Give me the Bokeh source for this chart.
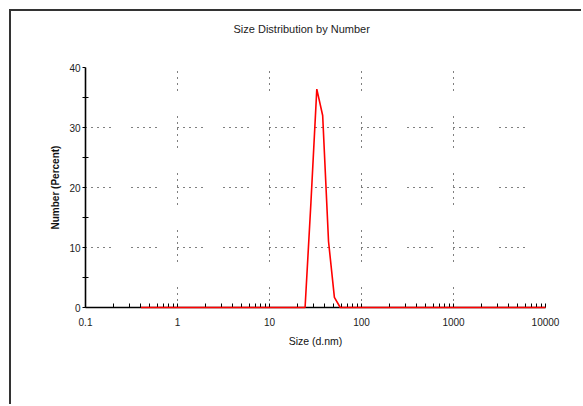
from bokeh.plotting import figure
from bokeh.models import FixedTicker, CustomJSTickFormatter, Title
from bokeh.embed import file_html
from bokeh.resources import INLINE

# Data (size in d.nm, number in percent)
sizes = [0.4, 24.36, 28.21, 32.67, 37.84, 43.82, 50.75, 58.77, 10000]
number_pct = [0.0, 0.0, 17.5, 36.4, 32.0, 11.0, 1.7, 0.0, 0.0]

x_major = [0.1, 1, 10, 100, 1000, 10000]
x_minor = [m * d for d in [0.1, 1, 10, 100, 1000] for m in range(2, 10)]
y_major = [0, 10, 20, 30, 40]
y_minor = [5, 15, 25, 35]

TITLE = "Size Distribution by Number"
FONT = "Liberation Sans"
PAD = 11  # outer panel frame offset (margin + border)

p = figure(width=583 - PAD, height=406 - PAD, x_axis_type="log",
           x_range=(0.1, 10000), y_range=(0, 40),
           output_backend="svg", toolbar_location=None,
           min_border_left=85 - PAD, min_border_right=38,
           min_border_top=67 - PAD, min_border_bottom=99)
p.margin = (9, 0, 0, 9)
p.styles = {"border-left": "2px solid #333333", "border-top": "2px solid #333333"}

p.background_fill_color = "white"
p.border_fill_color = "white"
p.outline_line_color = None

# title (outermost) and a blank spacer between it and the frame
p.title = Title(text=TITLE, text_font=FONT, text_font_size="11px",
                text_font_style="normal", text_color="#222222",
                align="left", offset=148, standoff=0)
p.add_layout(Title(text=" ", text_font=FONT, text_font_size="11px",
                   standoff=19), "above")

r = p.line(sizes, number_pct, line_color="#ff0000", line_width=1.6)
r.level = "overlay"

# axes
xa = p.xaxis[0]
xa.ticker = FixedTicker(ticks=x_major, minor_ticks=x_minor)
xa.formatter = CustomJSTickFormatter(code="return String(tick)")
xa.axis_label = "Size (d.nm)"
ya = p.yaxis[0]
ya.ticker = FixedTicker(ticks=y_major, minor_ticks=y_minor)
ya.axis_label = "Number (Percent)"

for ax in (xa, ya):
    ax.axis_line_color = "black"
    ax.axis_line_width = 1.6
    ax.major_tick_line_color = "black"
    ax.minor_tick_line_color = "black"
    ax.major_label_text_font = FONT
    ax.major_label_text_font_size = "10px"
    ax.major_label_text_color = "#222222"
    ax.axis_label_text_font = FONT
    ax.axis_label_text_color = "#111111"

xa.major_tick_in = 4
xa.major_tick_out = 0
xa.minor_tick_in = 4
xa.minor_tick_out = 0
xa.major_label_standoff = 10
xa.axis_label_standoff = 6
xa.axis_label_text_font_size = "10.5px"
xa.axis_label_text_font_style = "normal"

ya.major_tick_in = 0
ya.major_tick_out = 3
ya.minor_tick_in = 3
ya.minor_tick_out = 3
ya.major_label_standoff = 2
ya.axis_label_standoff = 5
ya.axis_label_text_font_size = "10px"
ya.axis_label_text_font_style = "bold"

# dotted grids
p.xgrid.grid_line_color = "black"
p.xgrid.grid_line_width = 1
p.xgrid.grid_line_dash = "1 5 1 5 1 5 1 5 1 5 1 26"
p.xgrid.grid_line_dash_offset = 11
p.ygrid.grid_line_color = "black"
p.ygrid.grid_line_width = 1
p.ygrid.grid_line_dash = "1 5 1 5 1 5 1 5 1 21"

open("out.html", "w").write(file_html(p, INLINE))
